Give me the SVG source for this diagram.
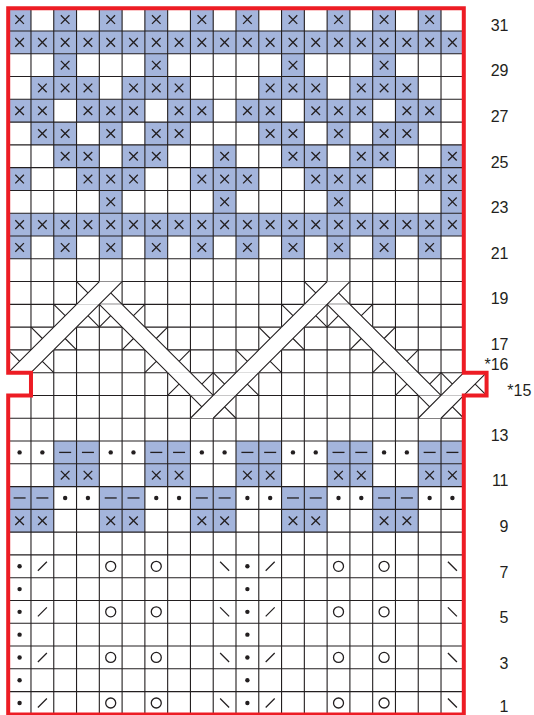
<svg xmlns="http://www.w3.org/2000/svg" xmlns:xlink="http://www.w3.org/1999/xlink" width="534" height="715" viewBox="0 0 534 715">
<style>
.sym{stroke:#231f20;stroke-width:1.3;fill:none;stroke-linecap:butt}
.grid{stroke:#231f20;stroke-width:1.1;fill:none}
.cf{fill:#ffffff;stroke:none}
.cl{stroke:#231f20;stroke-width:1.1;fill:none}
.lbl{font-family:"Liberation Sans",Arial,sans-serif;font-size:16px;fill:#231f20;text-anchor:end}
</style>
<defs>
<g id="bX"><rect width="22.78" height="22.78" fill="#a4b5dc"/><path class="sym" d="M7.1 7.1L15.7 15.7M15.7 7.1L7.1 15.7"/></g>
<g id="bD"><rect width="22.78" height="22.78" fill="#a4b5dc"/><path class="sym" d="M5.4 11.39H17.4"/></g>
<circle id="dot" cx="11.39" cy="11.39" r="2.2" fill="#231f20"/>
<circle id="yo" cx="11.39" cy="11.39" r="5" class="sym"/>
<path id="k2" class="sym" d="M6.9 15.9L15.9 6.9"/>
<path id="sk" class="sym" d="M6.9 6.9L15.9 15.9"/>
<polygon id="cRf" class="cf" points="0,22.78 22.78,22.78 45.56,0 22.78,0"/>
<polygon id="cLf" class="cf" points="0,0 22.78,0 45.56,22.78 22.78,22.78"/>
<path id="cRl" class="cl" d="M0 22.78L22.78 0M22.78 22.78L45.56 0M0 0L11.39 11.39M45.56 22.78L34.17 11.39"/>
<path id="cLl" class="cl" d="M0 0L22.78 22.78M22.78 0L45.56 22.78M45.56 0L34.17 11.39M0 22.78L11.39 11.39"/>
</defs>
<rect width="534" height="715" fill="#ffffff"/>

<g id="colorwork-top">
<!-- row 31 -->
<use href="#bX" x="8.2" y="8.2"/><use href="#bX" x="53.76" y="8.2"/><use href="#bX" x="99.32" y="8.2"/><use href="#bX" x="144.88" y="8.2"/><use href="#bX" x="190.44" y="8.2"/><use href="#bX" x="236" y="8.2"/><use href="#bX" x="281.56" y="8.2"/><use href="#bX" x="327.12" y="8.2"/><use href="#bX" x="372.68" y="8.2"/><use href="#bX" x="418.24" y="8.2"/>
<!-- row 30 -->
<use href="#bX" x="8.2" y="30.98"/><use href="#bX" x="30.98" y="30.98"/><use href="#bX" x="53.76" y="30.98"/><use href="#bX" x="76.54" y="30.98"/><use href="#bX" x="99.32" y="30.98"/><use href="#bX" x="122.1" y="30.98"/><use href="#bX" x="144.88" y="30.98"/><use href="#bX" x="167.66" y="30.98"/><use href="#bX" x="190.44" y="30.98"/><use href="#bX" x="213.22" y="30.98"/><use href="#bX" x="236" y="30.98"/><use href="#bX" x="258.78" y="30.98"/><use href="#bX" x="281.56" y="30.98"/><use href="#bX" x="304.34" y="30.98"/><use href="#bX" x="327.12" y="30.98"/><use href="#bX" x="349.9" y="30.98"/><use href="#bX" x="372.68" y="30.98"/><use href="#bX" x="395.46" y="30.98"/><use href="#bX" x="418.24" y="30.98"/><use href="#bX" x="441.02" y="30.98"/>
<!-- row 29 -->
<use href="#bX" x="53.76" y="53.76"/><use href="#bX" x="144.88" y="53.76"/><use href="#bX" x="281.56" y="53.76"/><use href="#bX" x="372.68" y="53.76"/>
<!-- row 28 -->
<use href="#bX" x="30.98" y="76.54"/><use href="#bX" x="53.76" y="76.54"/><use href="#bX" x="76.54" y="76.54"/><use href="#bX" x="122.1" y="76.54"/><use href="#bX" x="144.88" y="76.54"/><use href="#bX" x="167.66" y="76.54"/><use href="#bX" x="258.78" y="76.54"/><use href="#bX" x="281.56" y="76.54"/><use href="#bX" x="304.34" y="76.54"/><use href="#bX" x="349.9" y="76.54"/><use href="#bX" x="372.68" y="76.54"/><use href="#bX" x="395.46" y="76.54"/>
<!-- row 27 -->
<use href="#bX" x="8.2" y="99.32"/><use href="#bX" x="30.98" y="99.32"/><use href="#bX" x="76.54" y="99.32"/><use href="#bX" x="99.32" y="99.32"/><use href="#bX" x="122.1" y="99.32"/><use href="#bX" x="167.66" y="99.32"/><use href="#bX" x="190.44" y="99.32"/><use href="#bX" x="236" y="99.32"/><use href="#bX" x="258.78" y="99.32"/><use href="#bX" x="304.34" y="99.32"/><use href="#bX" x="327.12" y="99.32"/><use href="#bX" x="349.9" y="99.32"/><use href="#bX" x="395.46" y="99.32"/><use href="#bX" x="418.24" y="99.32"/>
<!-- row 26 -->
<use href="#bX" x="30.98" y="122.1"/><use href="#bX" x="53.76" y="122.1"/><use href="#bX" x="99.32" y="122.1"/><use href="#bX" x="144.88" y="122.1"/><use href="#bX" x="167.66" y="122.1"/><use href="#bX" x="258.78" y="122.1"/><use href="#bX" x="281.56" y="122.1"/><use href="#bX" x="327.12" y="122.1"/><use href="#bX" x="372.68" y="122.1"/><use href="#bX" x="395.46" y="122.1"/>
<!-- row 25 -->
<use href="#bX" x="53.76" y="144.88"/><use href="#bX" x="76.54" y="144.88"/><use href="#bX" x="122.1" y="144.88"/><use href="#bX" x="144.88" y="144.88"/><use href="#bX" x="213.22" y="144.88"/><use href="#bX" x="281.56" y="144.88"/><use href="#bX" x="304.34" y="144.88"/><use href="#bX" x="349.9" y="144.88"/><use href="#bX" x="372.68" y="144.88"/><use href="#bX" x="441.02" y="144.88"/>
<!-- row 24 -->
<use href="#bX" x="8.2" y="167.66"/><use href="#bX" x="76.54" y="167.66"/><use href="#bX" x="99.32" y="167.66"/><use href="#bX" x="122.1" y="167.66"/><use href="#bX" x="190.44" y="167.66"/><use href="#bX" x="213.22" y="167.66"/><use href="#bX" x="236" y="167.66"/><use href="#bX" x="304.34" y="167.66"/><use href="#bX" x="327.12" y="167.66"/><use href="#bX" x="349.9" y="167.66"/><use href="#bX" x="418.24" y="167.66"/><use href="#bX" x="441.02" y="167.66"/>
<!-- row 23 -->
<use href="#bX" x="99.32" y="190.44"/><use href="#bX" x="213.22" y="190.44"/><use href="#bX" x="327.12" y="190.44"/><use href="#bX" x="441.02" y="190.44"/>
<!-- row 22 -->
<use href="#bX" x="8.2" y="213.22"/><use href="#bX" x="30.98" y="213.22"/><use href="#bX" x="53.76" y="213.22"/><use href="#bX" x="76.54" y="213.22"/><use href="#bX" x="99.32" y="213.22"/><use href="#bX" x="122.1" y="213.22"/><use href="#bX" x="144.88" y="213.22"/><use href="#bX" x="167.66" y="213.22"/><use href="#bX" x="190.44" y="213.22"/><use href="#bX" x="213.22" y="213.22"/><use href="#bX" x="236" y="213.22"/><use href="#bX" x="258.78" y="213.22"/><use href="#bX" x="281.56" y="213.22"/><use href="#bX" x="304.34" y="213.22"/><use href="#bX" x="327.12" y="213.22"/><use href="#bX" x="349.9" y="213.22"/><use href="#bX" x="372.68" y="213.22"/><use href="#bX" x="395.46" y="213.22"/><use href="#bX" x="418.24" y="213.22"/><use href="#bX" x="441.02" y="213.22"/>
<!-- row 21 -->
<use href="#bX" x="8.2" y="236"/><use href="#bX" x="53.76" y="236"/><use href="#bX" x="99.32" y="236"/><use href="#bX" x="144.88" y="236"/><use href="#bX" x="190.44" y="236"/><use href="#bX" x="236" y="236"/><use href="#bX" x="281.56" y="236"/><use href="#bX" x="327.12" y="236"/><use href="#bX" x="372.68" y="236"/><use href="#bX" x="418.24" y="236"/>
</g>

<g id="texture-middle">
<!-- row 12 -->
<use href="#dot" x="8.2" y="441.02"/><use href="#dot" x="30.98" y="441.02"/><use href="#bD" x="53.76" y="441.02"/><use href="#bD" x="76.54" y="441.02"/><use href="#dot" x="99.32" y="441.02"/><use href="#dot" x="122.1" y="441.02"/><use href="#bD" x="144.88" y="441.02"/><use href="#bD" x="167.66" y="441.02"/><use href="#dot" x="190.44" y="441.02"/><use href="#dot" x="213.22" y="441.02"/><use href="#bD" x="236" y="441.02"/><use href="#bD" x="258.78" y="441.02"/><use href="#dot" x="281.56" y="441.02"/><use href="#dot" x="304.34" y="441.02"/><use href="#bD" x="327.12" y="441.02"/><use href="#bD" x="349.9" y="441.02"/><use href="#dot" x="372.68" y="441.02"/><use href="#dot" x="395.46" y="441.02"/><use href="#bD" x="418.24" y="441.02"/><use href="#bD" x="441.02" y="441.02"/>
<!-- row 11 -->
<use href="#bX" x="53.76" y="463.8"/><use href="#bX" x="76.54" y="463.8"/><use href="#bX" x="144.88" y="463.8"/><use href="#bX" x="167.66" y="463.8"/><use href="#bX" x="236" y="463.8"/><use href="#bX" x="258.78" y="463.8"/><use href="#bX" x="327.12" y="463.8"/><use href="#bX" x="349.9" y="463.8"/><use href="#bX" x="418.24" y="463.8"/><use href="#bX" x="441.02" y="463.8"/>
<!-- row 10 -->
<use href="#bD" x="8.2" y="486.58"/><use href="#bD" x="30.98" y="486.58"/><use href="#dot" x="53.76" y="486.58"/><use href="#dot" x="76.54" y="486.58"/><use href="#bD" x="99.32" y="486.58"/><use href="#bD" x="122.1" y="486.58"/><use href="#dot" x="144.88" y="486.58"/><use href="#dot" x="167.66" y="486.58"/><use href="#bD" x="190.44" y="486.58"/><use href="#bD" x="213.22" y="486.58"/><use href="#dot" x="236" y="486.58"/><use href="#dot" x="258.78" y="486.58"/><use href="#bD" x="281.56" y="486.58"/><use href="#bD" x="304.34" y="486.58"/><use href="#dot" x="327.12" y="486.58"/><use href="#dot" x="349.9" y="486.58"/><use href="#bD" x="372.68" y="486.58"/><use href="#bD" x="395.46" y="486.58"/><use href="#dot" x="418.24" y="486.58"/><use href="#dot" x="441.02" y="486.58"/>
<!-- row 9 -->
<use href="#bX" x="8.2" y="509.36"/><use href="#bX" x="30.98" y="509.36"/><use href="#bX" x="99.32" y="509.36"/><use href="#bX" x="122.1" y="509.36"/><use href="#bX" x="190.44" y="509.36"/><use href="#bX" x="213.22" y="509.36"/><use href="#bX" x="281.56" y="509.36"/><use href="#bX" x="304.34" y="509.36"/><use href="#bX" x="372.68" y="509.36"/><use href="#bX" x="395.46" y="509.36"/>
</g>

<g id="lace-bottom">
<!-- rows 7,5,3,1 -->
<use href="#dot" x="8.2" y="554.92"/><use href="#k2" x="30.98" y="554.92"/><use href="#yo" x="99.32" y="554.92"/><use href="#yo" x="144.88" y="554.92"/><use href="#sk" x="213.22" y="554.92"/><use href="#dot" x="236" y="554.92"/><use href="#k2" x="258.78" y="554.92"/><use href="#yo" x="327.12" y="554.92"/><use href="#yo" x="372.68" y="554.92"/><use href="#sk" x="441.02" y="554.92"/>
<use href="#dot" x="8.2" y="600.48"/><use href="#k2" x="30.98" y="600.48"/><use href="#yo" x="99.32" y="600.48"/><use href="#yo" x="144.88" y="600.48"/><use href="#sk" x="213.22" y="600.48"/><use href="#dot" x="236" y="600.48"/><use href="#k2" x="258.78" y="600.48"/><use href="#yo" x="327.12" y="600.48"/><use href="#yo" x="372.68" y="600.48"/><use href="#sk" x="441.02" y="600.48"/>
<use href="#dot" x="8.2" y="646.04"/><use href="#k2" x="30.98" y="646.04"/><use href="#yo" x="99.32" y="646.04"/><use href="#yo" x="144.88" y="646.04"/><use href="#sk" x="213.22" y="646.04"/><use href="#dot" x="236" y="646.04"/><use href="#k2" x="258.78" y="646.04"/><use href="#yo" x="327.12" y="646.04"/><use href="#yo" x="372.68" y="646.04"/><use href="#sk" x="441.02" y="646.04"/>
<use href="#dot" x="8.2" y="691.6"/><use href="#k2" x="30.98" y="691.6"/><use href="#yo" x="99.32" y="691.6"/><use href="#yo" x="144.88" y="691.6"/><use href="#sk" x="213.22" y="691.6"/><use href="#dot" x="236" y="691.6"/><use href="#k2" x="258.78" y="691.6"/><use href="#yo" x="327.12" y="691.6"/><use href="#yo" x="372.68" y="691.6"/><use href="#sk" x="441.02" y="691.6"/>
<!-- rows 6,4,2 -->
<use href="#dot" x="8.2" y="577.7"/><use href="#dot" x="236" y="577.7"/>
<use href="#dot" x="8.2" y="623.26"/><use href="#dot" x="236" y="623.26"/>
<use href="#dot" x="8.2" y="668.82"/><use href="#dot" x="236" y="668.82"/>
</g>

<g id="grid">
<path class="grid" d="M8.2 8.2H463.8M8.2 30.98H463.8M8.2 53.76H463.8M8.2 76.54H463.8M8.2 99.32H463.8M8.2 122.1H463.8M8.2 144.88H463.8M8.2 167.66H463.8M8.2 190.44H463.8M8.2 213.22H463.8M8.2 236H463.8M8.2 258.78H463.8M8.2 281.56H463.8M8.2 304.34H463.8M8.2 327.12H463.8M8.2 349.9H463.8M8.2 372.68H486.58M8.2 395.46H486.58M8.2 418.24H463.8M8.2 441.02H463.8M8.2 463.8H463.8M8.2 486.58H463.8M8.2 509.36H463.8M8.2 532.14H463.8M8.2 554.92H463.8M8.2 577.7H463.8M8.2 600.48H463.8M8.2 623.26H463.8M8.2 646.04H463.8M8.2 668.82H463.8M8.2 691.6H463.8"/>
<path class="grid" d="M30.98 8.2V714.4M53.76 8.2V714.4M76.54 8.2V714.4M99.32 8.2V714.4M122.1 8.2V714.4M144.88 8.2V714.4M167.66 8.2V714.4M190.44 8.2V714.4M213.22 8.2V714.4M236 8.2V714.4M258.78 8.2V714.4M281.56 8.2V714.4M304.34 8.2V714.4M327.12 8.2V714.4M349.9 8.2V714.4M372.68 8.2V714.4M395.46 8.2V714.4M418.24 8.2V714.4M441.02 8.2V714.4M463.8 8.2V714.4"/>
</g>

<g id="cables">
<g id="cable-fills">
<use href="#cRf" x="76.54" y="281.56"/><use href="#cRf" x="304.34" y="281.56"/>
<use href="#cRf" x="53.76" y="304.34"/><use href="#cLf" x="99.32" y="304.34"/><use href="#cRf" x="281.56" y="304.34"/><use href="#cLf" x="327.12" y="304.34"/>
<use href="#cRf" x="30.98" y="327.12"/><use href="#cLf" x="122.1" y="327.12"/><use href="#cRf" x="258.78" y="327.12"/><use href="#cLf" x="349.9" y="327.12"/>
<use href="#cRf" x="8.2" y="349.9"/><use href="#cLf" x="144.88" y="349.9"/><use href="#cRf" x="236" y="349.9"/><use href="#cLf" x="372.68" y="349.9"/>
<use href="#cLf" x="167.66" y="372.68"/><use href="#cRf" x="213.22" y="372.68"/><use href="#cLf" x="395.46" y="372.68"/><use href="#cRf" x="441.02" y="372.68"/>
<use href="#cRf" x="190.44" y="395.46"/><use href="#cRf" x="418.24" y="395.46"/>
</g>
<g id="cable-lines">
<use href="#cRl" x="76.54" y="281.56"/><use href="#cRl" x="304.34" y="281.56"/>
<use href="#cRl" x="53.76" y="304.34"/><use href="#cLl" x="99.32" y="304.34"/><use href="#cRl" x="281.56" y="304.34"/><use href="#cLl" x="327.12" y="304.34"/>
<use href="#cRl" x="30.98" y="327.12"/><use href="#cLl" x="122.1" y="327.12"/><use href="#cRl" x="258.78" y="327.12"/><use href="#cLl" x="349.9" y="327.12"/>
<use href="#cRl" x="8.2" y="349.9"/><use href="#cLl" x="144.88" y="349.9"/><use href="#cRl" x="236" y="349.9"/><use href="#cLl" x="372.68" y="349.9"/>
<use href="#cLl" x="167.66" y="372.68"/><use href="#cRl" x="213.22" y="372.68"/><use href="#cLl" x="395.46" y="372.68"/><use href="#cRl" x="441.02" y="372.68"/>
<use href="#cRl" x="190.44" y="395.46"/><use href="#cRl" x="418.24" y="395.46"/>
</g>
</g>

<path id="border" d="M8.2 8.2H463.8V372.68H486.58V395.46H463.8V714.4H8.2V395.46H30.98V372.68H8.2Z" fill="none" stroke="#ed1c24" stroke-width="4" stroke-linejoin="miter"/>

<g id="row-numbers">
<text class="lbl" x="508.5" y="30.8">31</text>
<text class="lbl" x="508.5" y="76.3">29</text>
<text class="lbl" x="508.5" y="121.9">27</text>
<text class="lbl" x="508.5" y="167.5">25</text>
<text class="lbl" x="508.5" y="213">23</text>
<text class="lbl" x="508.5" y="258.6">21</text>
<text class="lbl" x="508.5" y="304.1">19</text>
<text class="lbl" x="508.5" y="349.7">17</text>
<text class="lbl" x="508.5" y="370">*16</text>
<text class="lbl" x="531.3" y="396">*15</text>
<text class="lbl" x="508.5" y="441">13</text>
<text class="lbl" x="508.5" y="486.4">11</text>
<text class="lbl" x="508.5" y="531.9">9</text>
<text class="lbl" x="508.5" y="577.5">7</text>
<text class="lbl" x="508.5" y="623">5</text>
<text class="lbl" x="508.5" y="668.6">3</text>
<text class="lbl" x="508.5" y="712">1</text>
</g>
</svg>
